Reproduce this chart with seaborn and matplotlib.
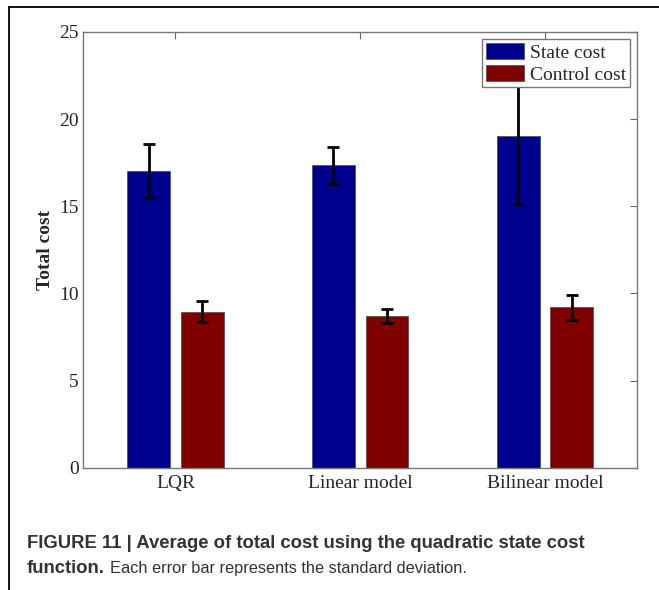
import numpy as np
import pandas as pd
import matplotlib
matplotlib.use("Agg")
import matplotlib.pyplot as plt
from matplotlib import font_manager
from matplotlib.lines import Line2D
import seaborn as sns

# ---------------- data ----------------
models = ["LQR", "Linear model", "Bilinear model"]
state_cost = [17.0, 17.35, 19.05]
state_std = [1.55, 1.05, 3.9]
control_cost = [8.95, 8.7, 9.2]
control_std = [0.6, 0.4, 0.7]
series = ["State cost", "Control cost"]
yticks = [0, 5, 10, 15, 20, 25]

df = pd.DataFrame({
    "model": models * 2,
    "kind": [series[0]] * 3 + [series[1]] * 3,
    "cost": state_cost + control_cost,
    "std": state_std + control_std,
})

# ---------------- fonts ----------------
have = {f.name for f in font_manager.fontManager.ttflist}
serif = "Liberation Serif" if "Liberation Serif" in have else "DejaVu Serif"
cap_font = "Liberation Sans"

sns.set_style("white")
plt.rcParams["font.family"] = [serif, "DejaVu Serif"]

fig = plt.figure(figsize=(6.59, 5.9), dpi=100)
ax = fig.add_axes([0.126, 0.207, 0.841, 0.739])

palette = {"State cost": "#00008f", "Control cost": "#800000"}
sns.barplot(data=df, x="model", y="cost", hue="kind", order=models,
            hue_order=series, palette=palette, width=0.58, gap=0.2,
            errorbar=None, edgecolor="#555555", linewidth=0.6,
            saturation=1, ax=ax)

# error bars at the bar centres
for cont, s in zip(ax.containers, series):
    sub = df[df["kind"] == s].set_index("model").loc[models]
    xs = [p.get_x() + p.get_width() / 2 for p in cont.patches]
    ax.errorbar(xs, sub["cost"], yerr=sub["std"], fmt="none",
                ecolor="black", elinewidth=2, capsize=4, capthick=2,
                zorder=2)

ax.set_xlim(-0.5, 2.5)
ax.set_ylim(0, 25)
ax.set_yticks(yticks)
ax.set_xlabel("")
ax.set_ylabel("Total cost", fontsize=14, fontweight="bold", labelpad=4)
ax.tick_params(direction="in", top=True, right=True, length=5,
               color="#666666", labelsize=14)
ax.tick_params(axis="y", pad=3)
ax.tick_params(axis="x", pad=5)
for sp in ax.spines.values():
    sp.set_visible(True)
    sp.set_color("#777777")
    sp.set_linewidth(1)

leg = ax.legend(loc="upper right", fontsize=14, frameon=True, fancybox=False,
                edgecolor="#777777", framealpha=1, handlelength=2.0,
                handleheight=0.95, handletextpad=0.3, borderpad=0.2,
                labelspacing=0.15, borderaxespad=0.35)
leg.get_frame().set_linewidth(1)
leg.set_zorder(5)

# outer frame lines of the figure panel
fig.add_artist(Line2D([0.013, 0.013], [0.0, 0.988], color="black", lw=1.3,
                      transform=fig.transFigure))
fig.add_artist(Line2D([0.013, 1.0], [0.988, 0.988], color="black", lw=1.3,
                      transform=fig.transFigure))

# caption
cap_col = "#333333"
fig.text(0.041, 0.071, "FIGURE 11 | Average of total cost using the quadratic state cost",
         fontsize=13.3, fontweight="bold", family=cap_font, color=cap_col,
         va="baseline")
t1 = fig.text(0.041, 0.029, "function.", fontsize=13.3, fontweight="bold",
              family=cap_font, color=cap_col, va="baseline")
fig.canvas.draw()
bb = t1.get_window_extent()
x2 = fig.transFigure.inverted().transform((bb.x1, bb.y0))[0]
fig.text(x2 + 0.007, 0.029, "Each error bar represents the standard deviation.",
         fontsize=11.8, family=cap_font, color=cap_col, va="baseline")

fig.savefig("out.png", dpi=100)
